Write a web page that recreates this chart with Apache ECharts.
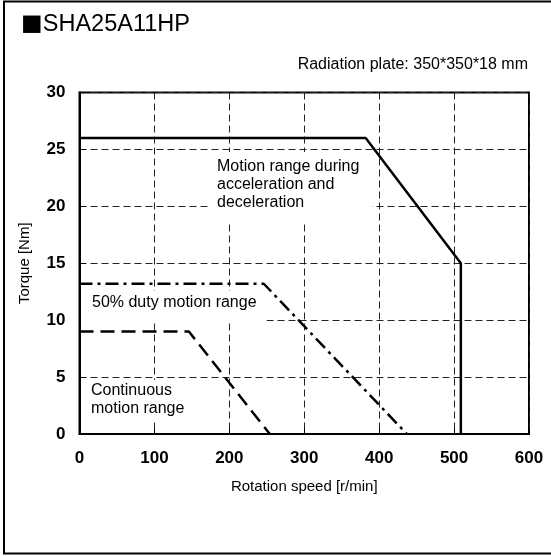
<!DOCTYPE html>
<html>
<head>
<meta charset="utf-8">
<script src="https://cdn.jsdelivr.net/npm/echarts@6/dist/echarts.min.js"></script>
<style>
html,body{margin:0;padding:0;background:#fff;}
#chart{width:551px;height:556px;}
</style>
</head>
<body>
<div id="chart"></div>
<script>
// Data
const xTicks = [0, 100, 200, 300, 400, 500, 600];
const yTicks = [0, 5, 10, 15, 20, 25, 30];
const accelSpeed = [0, 382, 509, 509];
const accelTorque = [26, 26, 15, 0];
const duty50Speed = [0, 246, 437];
const duty50Torque = [13.2, 13.2, 0];
const contSpeed = [0, 146, 254];
const contTorque = [9, 9, 0];

const titleMark = '■';
const titleText = 'SHA25A11HP';
const noteText = 'Radiation plate: 350*350*18 mm';
const xName = 'Rotation speed [r/min]';
const yName = 'Torque [Nm]';
const accelLabel = 'Motion range during\nacceleration and\ndeceleration';
const dutyLabel = '50% duty motion range';
const contLabel = 'Continuous\nmotion range';

function pairs(xs, ys) { return xs.map((x, i) => [x, ys[i]]); }

const FONT = 'Liberation Sans, Arial, sans-serif';
const chart = echarts.init(document.getElementById('chart'), null, {renderer: 'canvas'});

const splitDash = {show: true, lineStyle: {color: '#222', width: 1, type: [7, 4]}};

chart.setOption({
  animation: false,
  backgroundColor: '#fff',
  grid: {left: 79.5, right: 22, top: 92.5, bottom: 122, show: true, borderColor: '#000', borderWidth: 2, backgroundColor: 'transparent'},
  xAxis: {
    type: 'value', min: 0, max: 600, interval: 100,
    name: xName, nameLocation: 'middle', nameGap: 45, nameMoveOverlap: false,
    nameTextStyle: {fontFamily: FONT, fontSize: 15, color: '#000'},
    axisLine: {show: true, lineStyle: {color: '#000', width: 2}},
    axisTick: {show: true, inside: true, length: 6, lineStyle: {color: '#000', width: 1}},
    axisLabel: {fontFamily: FONT, fontSize: 17, fontWeight: 'bold', color: '#000', margin: 16,
      formatter: v => xTicks.includes(v) ? String(v) : ''},
    splitLine: splitDash
  },
  yAxis: {
    type: 'value', min: 0, max: 30, interval: 5,
    name: yName, nameLocation: 'middle', nameGap: 47, nameMoveOverlap: false,
    nameTextStyle: {fontFamily: FONT, fontSize: 15, color: '#000'},
    axisLine: {show: true, lineStyle: {color: '#000', width: 2}},
    axisTick: {show: true, inside: true, length: 6, lineStyle: {color: '#000', width: 1}},
    axisLabel: {fontFamily: FONT, fontSize: 17, fontWeight: 'bold', color: '#000', margin: 14,
      formatter: v => yTicks.includes(v) ? String(v) : ''},
    splitLine: splitDash
  },
  graphic: [
    {type: 'rect', z: 100, silent: true, shape: {x: 4, y: 1.5, width: 553, height: 552},
      style: {fill: 'none', stroke: '#000', lineWidth: 2}},
    {type: 'text', z: 100, left: 21, top: 7,
      style: {text: '{sq|' + titleMark + '}{t|' + titleText + '}', fill: '#000',
        rich: {sq: {fontFamily: FONT, fontSize: 36, verticalAlign: 'middle', padding: [0, 0, 0, 0]},
               t: {fontFamily: FONT, fontSize: 23.5, verticalAlign: 'middle'}}}},
    {type: 'text', z: 100, right: 23, top: 57,
      style: {text: noteText, font: '16px ' + FONT, fill: '#000'}},
    {type: 'text', z: 1, left: 210, top: 152,
      style: {text: accelLabel, font: '16px ' + FONT, fill: '#000', lineHeight: 18,
        backgroundColor: '#fff', padding: [6, 13, 12, 7]}},
    {type: 'text', z: 1, left: 81, top: 291,
      style: {text: dutyLabel, font: '16px ' + FONT, fill: '#000', lineHeight: 18,
        backgroundColor: '#fff', padding: [3, 10, 10, 11]}},
    {type: 'text', z: 1, left: 86, top: 380,
      style: {text: contLabel, font: '16px ' + FONT, fill: '#000', lineHeight: 18,
        backgroundColor: '#fff', padding: [2, 4, 2, 5]}}
  ],
  series: [
    {type: 'line', data: pairs(accelSpeed, accelTorque), symbol: 'none', z: 5,
      lineStyle: {color: '#000', width: 2.5, type: 'solid'}},
    {type: 'line', data: pairs(duty50Speed, duty50Torque), symbol: 'none', z: 5,
      lineStyle: {color: '#000', width: 2.5, type: [13, 5, 3, 5]}},
    {type: 'line', data: pairs(contSpeed, contTorque), symbol: 'none', z: 5,
      lineStyle: {color: '#000', width: 2.5, type: [14, 7]}}
  ]
});
</script>
</body>
</html>
